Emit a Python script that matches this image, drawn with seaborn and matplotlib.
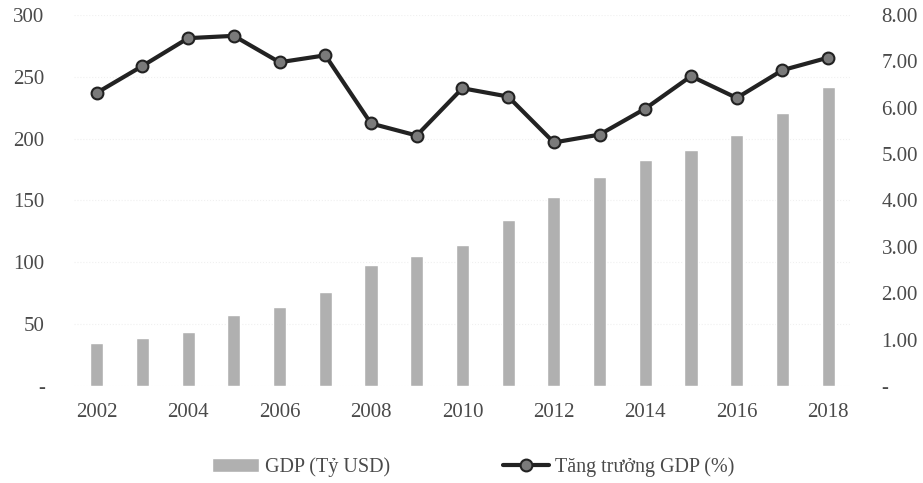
import matplotlib
matplotlib.use("Agg")
import matplotlib.pyplot as plt
import seaborn as sns
import pandas as pd

years = [str(y) for y in range(2002, 2019)]
gdp = [35, 39, 44, 57, 64, 76, 98, 105, 114, 134, 153, 169, 183, 191, 203, 221, 242]
growth = [6.32, 6.90, 7.50, 7.55, 6.98, 7.13, 5.66, 5.40, 6.42, 6.24, 5.25, 5.42, 5.98, 6.68, 6.21, 6.81, 7.08]

left_ticks = [0, 50, 100, 150, 200, 250, 300]
left_labels = ["-", "50", "100", "150", "200", "250", "300"]
right_ticks = [0, 1, 2, 3, 4, 5, 6, 7, 8]
right_labels = ["-", "1.00", "2.00", "3.00", "4.00", "5.00", "6.00", "7.00", "8.00"]

df = pd.DataFrame({"Year": years, "GDP": gdp, "Growth": growth})

sns.set_style("white")
plt.rcParams["font.family"] = ["Liberation Serif", "DejaVu Serif"]
txt = "#4a4a4a"

fig = plt.figure(figsize=(9.23, 4.83), dpi=100)
ax = fig.add_axes([0.080, 0.201, 0.842, 0.768])

sns.barplot(data=df, x="Year", y="GDP", color="#b0b0b0", saturation=1,
            width=0.29, ax=ax, label="GDP (Tỷ USD)", zorder=2)
ax.set_ylim(0, 300)
ax.set_yticks(left_ticks, left_labels)
ax.yaxis.grid(True, color="#f0f0f0", linestyle=":", linewidth=0.8, zorder=0)
ax.set_axisbelow(True)

ax2 = ax.twinx()
sns.pointplot(data=df, x="Year", y="Growth", color="#222222", markers="o",
              markersize=8.5, linewidth=3, ax=ax2, label="Tăng trưởng GDP (%)")
line = ax2.lines[0]
line.set_markerfacecolor("#7a7a7a")
line.set_markeredgecolor("#222222")
line.set_markeredgewidth(1.5)
ax2.set_ylim(0, 8)
ax2.set_yticks(right_ticks, right_labels)

ax.set_xlim(-0.5, len(years) - 0.5)
ax.set_xticks(range(0, len(years), 2), years[::2])
ax.set_xlabel("")
ax.set_ylabel("")
ax2.set_ylabel("")
ax2.set_xlabel("")

for a in (ax, ax2):
    for s in a.spines.values():
        s.set_visible(False)
    a.tick_params(length=0, labelsize=15, labelcolor=txt)
ax.tick_params(axis="y", pad=21)
ax2.tick_params(axis="y", pad=22)
ax.tick_params(axis="x", pad=12)
if ax2.get_legend():
    ax2.get_legend().remove()
if ax.get_legend():
    ax.get_legend().remove()

fig.legend(handles=[ax.patches[0], line], labels=["GDP (Tỷ USD)", "Tăng trưởng GDP (%)"],
           loc="lower center", bbox_to_anchor=(0.513, -0.025), ncol=2, frameon=False,
           fontsize=14.5, labelcolor=txt, handlelength=2.3, columnspacing=5.6,
           handletextpad=0.3)

fig.savefig("out.png", dpi=100)
